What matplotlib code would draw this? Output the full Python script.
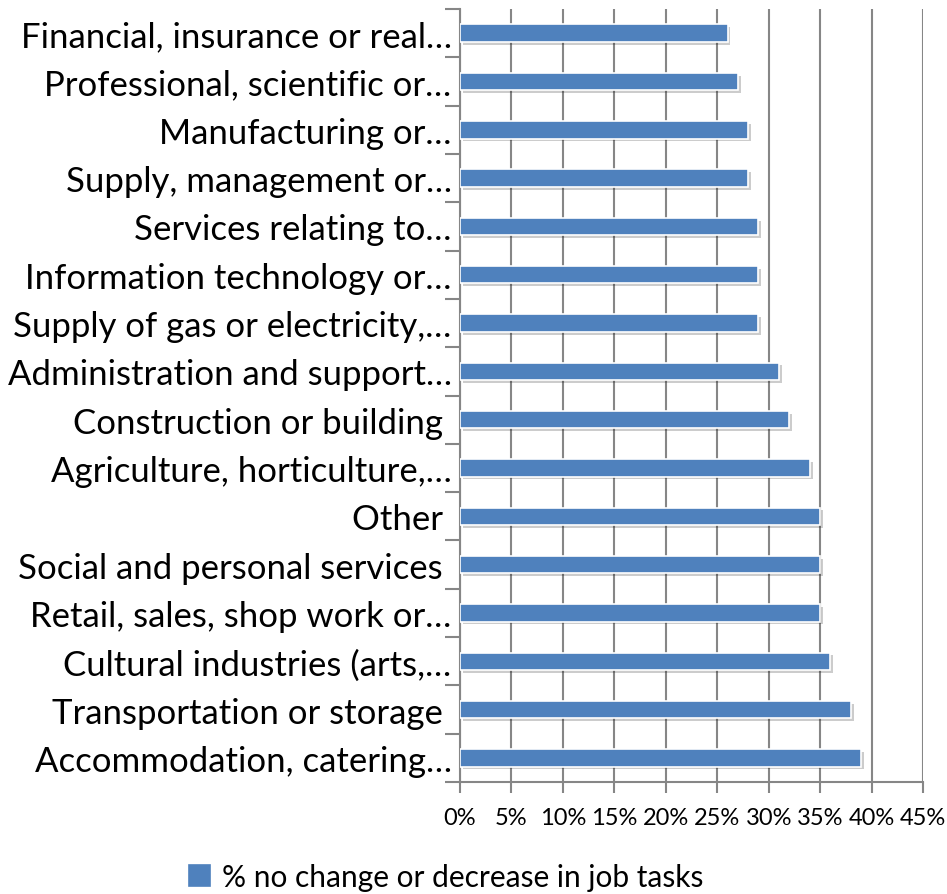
import matplotlib
matplotlib.use("Agg")
import matplotlib.pyplot as plt
import matplotlib.patheffects as pe
from matplotlib.ticker import FixedLocator, PercentFormatter

plt.rcParams['font.family'] = ['Lato', 'DejaVu Sans']

# sectors, top to bottom
sectors = [
    "Financial, insurance or real…",
    "Professional, scientific or…",
    "Manufacturing or…",
    "Supply, management or…",
    "Services relating to…",
    "Information technology or…",
    "Supply of gas or electricity,…",
    "Administration and support…",
    "Construction or building ",
    "Agriculture, horticulture,…",
    "Other ",
    "Social and personal services ",
    "Retail, sales, shop work or…",
    "Cultural industries (arts,…",
    "Transportation or storage ",
    "Accommodation, catering…",
]
no_change = [26, 27, 28, 28, 29, 29, 29, 31, 32, 34, 35, 35, 35, 36, 38, 39]
series_name = "% no change or decrease in job tasks"

bar_color = "#4F81BD"
grid_color = "#868686"

fig = plt.figure(figsize=(9.47, 8.95), dpi=100)
ax = fig.add_axes([0.4857, 0.1251, 0.4890, 0.8637])

n = len(sectors)
ypos = list(range(n))[::-1]
bars = ax.barh(ypos, no_change, height=0.36, color=bar_color,
               edgecolor="white", linewidth=1.2, label=series_name, zorder=3)
for b in bars:
    b.set_path_effects([pe.SimplePatchShadow(offset=(2, -2), shadow_rgbFace="#000000", alpha=0.2),
                        pe.Normal()])

ax.set_xlim(0, 45)
ax.set_ylim(-0.5, n - 0.5)
ax.xaxis.set_major_locator(FixedLocator(range(0, 50, 5)))
ax.xaxis.set_major_formatter(PercentFormatter(decimals=0))
ax.grid(axis="x", color=grid_color, linewidth=1.5, zorder=0)

ax.set_yticks(ypos)
ax.set_yticklabels(sectors, fontsize=25)
ax.yaxis.set_minor_locator(FixedLocator([i - 0.5 for i in range(n + 1)]))
ax.tick_params(axis="y", which="major", length=0, pad=6)
ax.tick_params(axis="y", which="minor", length=11, width=1.5, color=grid_color)
ax.tick_params(axis="x", length=8, width=1.5, color=grid_color, labelsize=17, pad=10)

for s in ("top", "right"):
    ax.spines[s].set_visible(False)
for s in ("left", "bottom"):
    ax.spines[s].set_color(grid_color)
    ax.spines[s].set_linewidth(1.5)

leg = fig.legend(handles=[bars], labels=[series_name], loc="center",
                 bbox_to_anchor=(0.471, 0.019), frameon=False, fontsize=21.5,
                 handlelength=0.7, handleheight=0.7, handletextpad=0.4)
leg.legend_handles[0].set_path_effects([])
leg.legend_handles[0].set_edgecolor(bar_color)

fig.savefig("out.png", dpi=100)
